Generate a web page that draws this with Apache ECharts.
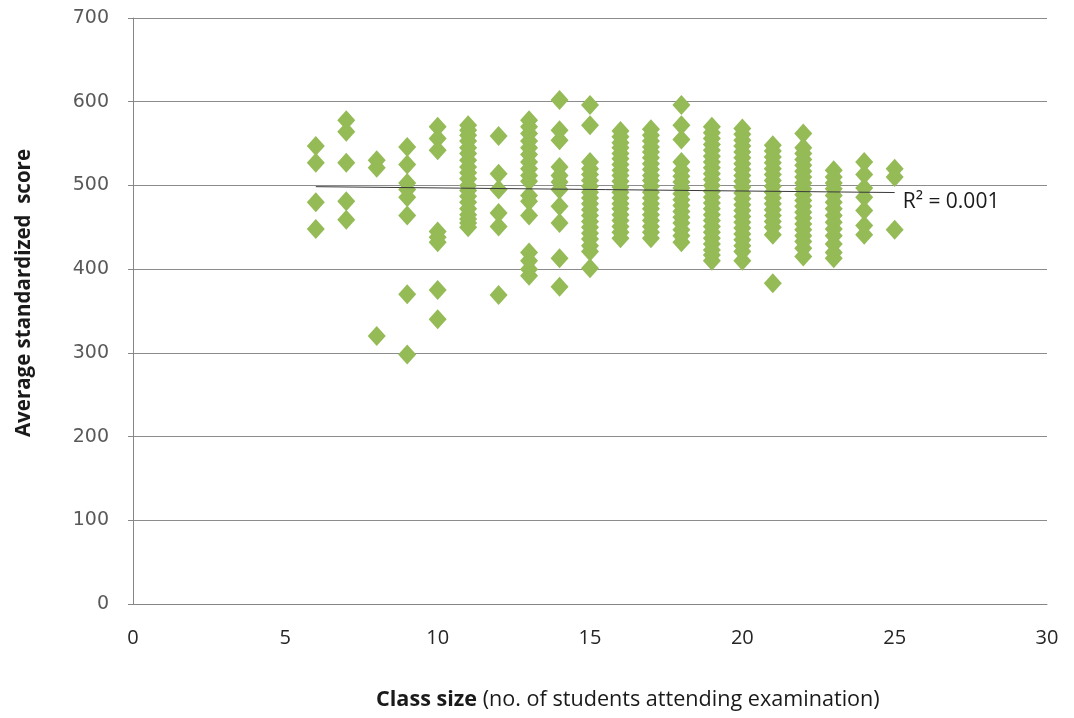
<!DOCTYPE html>
<html>
<head>
<meta charset="utf-8">
<script src="https://cdn.jsdelivr.net/npm/echarts@6/dist/echarts.min.js"></script>
<style>html,body{margin:0;padding:0;background:#fff}#c{width:1074px;height:718px}</style>
</head>
<body>
<div id="c"></div>
<script>
// ---- data ----
const classSizes = [6,7,8,9,10,11,12,13,14,15,16,17,18,19,20,21,22,23,24,25];
const scores6  = [547,527,480,448];
const scores7  = [578,564,527,481,459];
const scores8  = [530,521,320];
const scores9  = [546,525,503,495,486,464,370,298];
const scores10 = [570,556,542,445,438,432,375,340];
const scores11 = [572,566,560,553,545,538,530,522,515,508,500,494,487,480,472,465,460,455,450];
const scores12 = [559,514,495,467,451,369];
const scores13 = [578,570,562,553,545,537,528,520,512,505,488,481,464,420,410,400,392];
const scores14 = [602,566,554,522,512,504,495,475,455,413,379];
const scores15 = [596,572,528,520,513,506,499,492,485,478,471,464,457,450,443,436,428,421,401];
const scores16 = [565,558,551,545,538,532,525,518,512,505,498,492,485,478,472,465,458,451,444,437];
const scores17 = [567,560,553,546,540,533,526,519,512,506,499,492,485,478,472,465,458,451,444,437];
const scores18 = [596,572,555,528,518,511,504,497,490,483,476,469,462,455,447,440,432];
const scores19 = [570,563,556,549,542,535,528,521,514,507,500,493,486,479,472,465,458,451,444,437,430,423,417,410];
const scores20 = [568,561,554,547,540,533,526,519,512,505,498,491,484,477,470,463,456,449,442,435,428,421,410];
const scores21 = [548,541,534,527,520,513,506,499,492,485,478,471,464,457,450,441,383];
const scores22 = [562,545,538,531,524,517,510,503,496,489,482,475,468,461,454,447,440,433,425,415];
const scores23 = [518,510,503,496,488,480,472,464,456,448,440,430,420,413];
const scores24 = [528,513,497,486,470,452,441];
const scores25 = [520,510,447];
const scoresBySize = [scores6,scores7,scores8,scores9,scores10,scores11,scores12,scores13,scores14,scores15,
  scores16,scores17,scores18,scores19,scores20,scores21,scores22,scores23,scores24,scores25];
const trendX = [6, 25];
const trendY = [498.5, 491.5];
const r2Label = 'R\u00B2 = 0.001';
const yTicks = [0,100,200,300,400,500,600,700];
const xTicks = [0,5,10,15,20,25,30];
const xTitleBold = 'Class size';
const xTitleRest = ' (no. of students attending examination)';
const yTitle = 'Average standardized  score';

// ---- build ----
const points = [];
classSizes.forEach((cs, i) => scoresBySize[i].forEach(v => points.push([cs, v])));

const chart = echarts.init(document.getElementById('c'), null, {renderer: 'canvas'});
chart.setOption({
  animation: false,
  backgroundColor: '#ffffff',
  grid: {left: 133, right: 27, top: 18, bottom: 114, containLabel: false},
  xAxis: {
    type: 'value', min: xTicks[0], max: xTicks[xTicks.length-1], interval: 5,
    axisLine: {show: true, lineStyle: {color: '#868686', width: 1}},
    axisTick: {show: false},
    splitLine: {show: false},
    axisLabel: {color: '#262626', fontFamily: 'Open Sans', fontSize: 20, margin: 24}
  },
  yAxis: {
    type: 'value', min: yTicks[0], max: yTicks[yTicks.length-1], interval: 100,
    axisLine: {show: true, lineStyle: {color: '#868686', width: 1}},
    axisTick: {show: true, length: 5, lineStyle: {color: '#868686'}},
    splitLine: {show: true, lineStyle: {color: '#8c8c8c', width: 1}},
    axisLabel: {color: '#595959', fontFamily: 'DejaVu Sans', fontSize: 19, margin: 24}
  },
  graphic: [
    {
      type: 'text', x: 24, y: 293, rotation: Math.PI / 2,
      style: {text: yTitle, fill: '#1a1a1a', font: 'bold 20.5px "Open Sans"', align: 'center', verticalAlign: 'middle'}
    },
    {
      type: 'text', left: 376, top: 689,
      style: {
        text: '{b|' + xTitleBold + '}{n|' + xTitleRest + '}',
        rich: {
          b: {fontFamily: 'Open Sans', fontWeight: 'bold', fontSize: 21.6, fill: '#1a1a1a'},
          n: {fontFamily: 'Open Sans', fontSize: 21.6, fill: '#1a1a1a'}
        }
      }
    }
  ],
  series: [
    {
      type: 'scatter', data: points, symbol: 'diamond', symbolSize: [18, 20],
      itemStyle: {color: '#95BB57', opacity: 1}, z: 2
    },
    {
      type: 'line', data: trendX.map((x, i) => [x, trendY[i]]), showSymbol: false, symbol: 'none',
      lineStyle: {color: '#3a3a3a', width: 1}, z: 3,
      endLabel: {show: true, formatter: r2Label, color: '#1a1a1a', fontFamily: 'Open Sans', fontSize: 21, offset: [0, 9]}
    }
  ]
});
</script>
</body>
</html>
